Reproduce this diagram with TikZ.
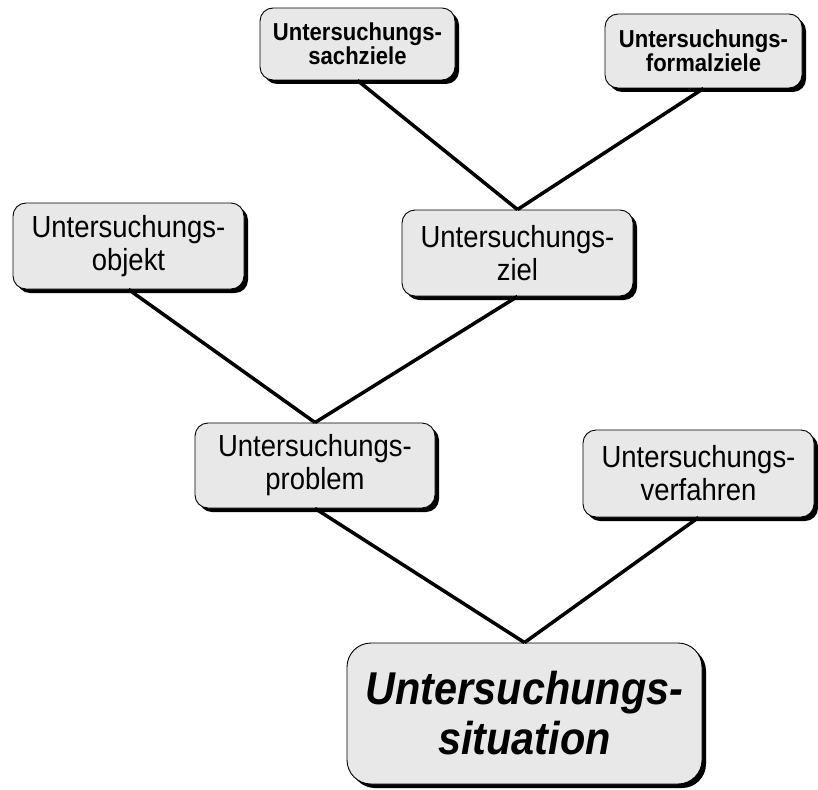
\documentclass[tikz,border=0pt]{standalone}
\usepackage{fontspec}
\setmainfont[FakeStretch=0.9]{Liberation Sans}
\usetikzlibrary{shadows}
\definecolor{boxfill}{RGB}{232,232,232}
\tikzset{
  box/.style={draw=black, line width=0.9pt, fill=boxfill, rounded corners=13pt,
    inner sep=0pt, align=center, anchor=center,
    drop shadow={shadow xshift=4pt, shadow yshift=-4pt, fill=black, opacity=1}},
  plain/.style={box, font=\fontsize{30.5}{33}\selectfont},
  goal/.style={box, font=\bfseries\fontsize{24.5}{24}\selectfont},
  main/.style={box, rounded corners=24pt, font=\bfseries\itshape\fontsize{46}{50}\selectfont},
  link/.style={line width=3.5pt, black}
}
\begin{document}
\begin{tikzpicture}[x=1pt, y=-1pt]
\useasboundingbox (0,0) rectangle (818,789);

% goal refinements
\node[goal, minimum width=195pt, minimum height=72pt] (sach) at (357.5,44) {Untersuchungs-\\sachziele};
\node[goal, minimum width=197pt, minimum height=74pt] (formal) at (703.5,51) {Untersuchungs-\\formalziele};

% second level
\node[plain, minimum width=231pt, minimum height=86pt] (objekt) at (128.5,246) {Untersuchungs-\\objekt};
\node[plain, minimum width=231pt, minimum height=86pt] (ziel) at (517.5,253) {Untersuchungs-\\ziel};

% problem and method
\node[plain, minimum width=240pt, minimum height=85pt] (problem) at (315,465.5) {Untersuchungs-\\problem};
\node[plain, minimum width=231pt, minimum height=87pt] (verfahren) at (698.5,473.5) {Untersuchungs-\\verfahren};

% root
\node[main, minimum width=355pt, minimum height=141pt] (situation) at (524.5,713.5) {Untersuchungs-\\situation};

% connectors
\draw[link] (sach.south) -- (ziel.north);
\draw[link] (formal.south) -- (ziel.north);
\draw[link] (objekt.south) -- (problem.north);
\draw[link] (ziel.south) -- (problem.north);
\draw[link] (problem.south) -- (situation.north);
\draw[link] (verfahren.south) -- (situation.north);
\end{tikzpicture}
\end{document}
